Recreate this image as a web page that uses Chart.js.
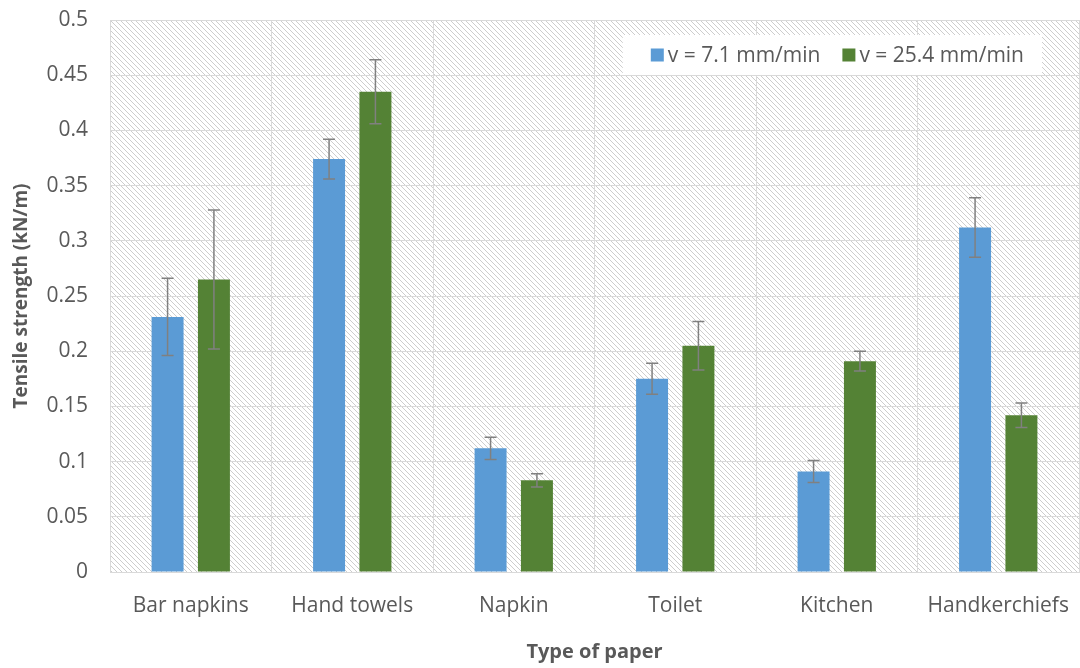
<!DOCTYPE html>
<html>
<head>
<meta charset="utf-8">
<title>Tensile strength</title>
<script src="https://cdn.jsdelivr.net/npm/chart.js@4.4.1/dist/chart.umd.min.js"></script>
<style>
html, body { margin: 0; padding: 0; background: #fff; }
#wrap { width: 1080px; height: 668px; }
</style>
</head>
<body>
<div id="wrap"><canvas id="myChart" width="1080" height="668"></canvas></div>
<script>
//chart data
var categories = ['Bar napkins', 'Hand towels', 'Napkin', 'Toilet', 'Kitchen', 'Handkerchiefs'];
var seriesLabels = ['v = 7.1 mm/min', 'v = 25.4 mm/min'];
var slowValues = [0.231, 0.374, 0.112, 0.175, 0.091, 0.312];
var slowErrors = [0.035, 0.018, 0.010, 0.014, 0.010, 0.027];
var fastValues = [0.265, 0.435, 0.083, 0.205, 0.191, 0.142];
var fastErrors = [0.063, 0.029, 0.006, 0.022, 0.009, 0.011];
var yTicks = [0, 0.05, 0.1, 0.15, 0.2, 0.25, 0.3, 0.35, 0.4, 0.45, 0.5];

var textColor = '#595959';
var gridColor = '#d9d9d9';
var fontFamily = "'Open Sans', 'Noto Sans', sans-serif";

//hatch tile for the plot background
function makeHatch(){
	var tile = document.createElement('canvas');
	tile.width = 5;
	tile.height = 5;
	var t = tile.getContext('2d');
	t.fillStyle = '#ffffff';
	t.fillRect(0, 0, 5, 5);
	t.fillStyle = '#cdcdcd';
	for(var i = 0; i < 5; i++)
	{
		t.fillRect(i, i, 1, 1);
	}
	return tile;
}

//white page + hatched plot area
var background = {
	id: 'background',
	beforeDraw: function(chart){
		var ctx = chart.ctx;
		var a = chart.chartArea;
		ctx.save();
		ctx.fillStyle = '#ffffff';
		ctx.fillRect(0, 0, chart.width, chart.height);
		ctx.fillStyle = ctx.createPattern(makeHatch(), 'repeat');
		ctx.fillRect(a.left, a.top, a.right - a.left, a.bottom - a.top);
		ctx.restore();
	}
};

//error bars from dataset.errors
var errorBars = {
	id: 'errorBars',
	afterDatasetsDraw: function(chart){
		var ctx = chart.ctx;
		var yScale = chart.scales.y;
		ctx.save();
		ctx.strokeStyle = '#808080';
		ctx.lineWidth = 1.5;
		chart.data.datasets.forEach(function(ds, i){
			var meta = chart.getDatasetMeta(i);
			meta.data.forEach(function(bar, j){
				var top = yScale.getPixelForValue(ds.data[j] + ds.errors[j]);
				var bottom = yScale.getPixelForValue(ds.data[j] - ds.errors[j]);
				ctx.beginPath();
				ctx.moveTo(bar.x, top);
				ctx.lineTo(bar.x, bottom);
				ctx.moveTo(bar.x - 6, top);
				ctx.lineTo(bar.x + 6, top);
				ctx.moveTo(bar.x - 6, bottom);
				ctx.lineTo(bar.x + 6, bottom);
				ctx.stroke();
			});
		});
		ctx.restore();
	}
};

//legend box inside the plot, top right
var boxLegend = {
	id: 'boxLegend',
	afterDraw: function(chart){
		var ctx = chart.ctx;
		var a = chart.chartArea;
		var sq = 13;
		ctx.save();
		ctx.font = '21px ' + fontFamily;
		var widths = chart.data.datasets.map(function(ds){ return ctx.measureText(ds.label).width; });
		var total = 28 + sq + 4 + widths[0] + 22 + sq + 4 + widths[1] + 18;
		var right = a.right - 37;
		var left = right - total;
		var top = a.top + 15;
		var h = 40;
		ctx.fillStyle = '#ffffff';
		ctx.fillRect(left, top, total, h);
		var x = left + 28;
		var cy = top + h / 2;
		chart.data.datasets.forEach(function(ds, i){
			ctx.fillStyle = ds.backgroundColor;
			ctx.fillRect(x, cy - sq / 2, sq, sq);
			ctx.fillStyle = textColor;
			ctx.textBaseline = 'middle';
			ctx.textAlign = 'left';
			ctx.fillText(ds.label, x + sq + 4, cy + 1);
			x += sq + 4 + widths[i] + 22;
		});
		ctx.restore();
	}
};

var ctx = document.getElementById('myChart');

var data = {
	labels: categories,
	datasets: [
		{
			label: seriesLabels[0],
			backgroundColor: '#5b9bd5',
			data: slowValues,
			errors: slowErrors
		},
		{
			label: seriesLabels[1],
			backgroundColor: '#548235',
			data: fastValues,
			errors: fastErrors
		}
	]
};

var myBarChart = new Chart(ctx, {
	type: 'bar',
	data: data,
	plugins: [background, errorBars, boxLegend],
	options: {
		responsive: false,
		animation: false,
		categoryPercentage: 0.574,
		barPercentage: 0.69,
		layout: { padding: { top: 20, right: 1, left: 0, bottom: 0 } },
		plugins: {
			legend: { display: false },
			tooltip: { enabled: false }
		},
		scales: {
			x: {
				grid: { color: gridColor, drawTicks: false, offset: true },
				border: { color: gridColor },
				ticks: { color: textColor, font: { family: fontFamily, size: 21 }, padding: 21 },
				title: {
					display: true,
					text: 'Type of paper',
					color: textColor,
					font: { family: fontFamily, size: 20, weight: 'bold' },
					padding: { top: 10, bottom: 4 }
				},
				afterFit: function(s){
					s.height = 96;
					s.paddingLeft = 0;
					s.paddingRight = 0;
				}
			},
			y: {
				min: 0,
				max: 0.5,
				afterBuildTicks: function(s){
					s.ticks = yTicks.map(function(v){ return { value: v }; });
				},
				grid: { color: gridColor, drawTicks: false },
				border: { color: gridColor },
				ticks: {
					color: textColor,
					font: { family: fontFamily, size: 21 },
					padding: 22,
					callback: function(v){ return String(v); }
				},
				title: {
					display: true,
					text: 'Tensile strength (kN/m)',
					color: textColor,
					font: { family: fontFamily, size: 19, weight: 'bold' },
					padding: { top: 10, bottom: 4 }
				},
				afterFit: function(s){
					s.width = 110;
					s.paddingTop = 0;
					s.paddingBottom = 0;
				}
			}
		}
	}
});
</script>
</body>
</html>
